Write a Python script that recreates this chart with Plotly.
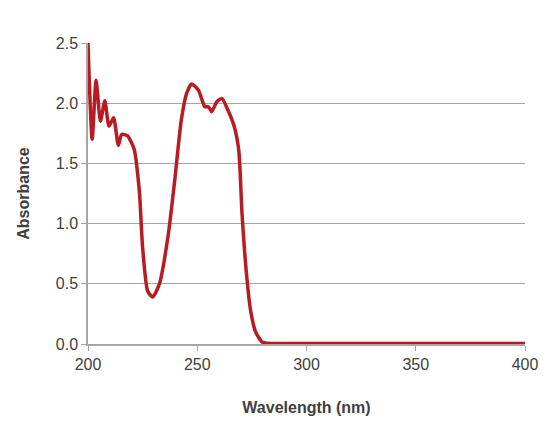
import plotly.graph_objects as go

# Spektrum lest av bildet
wavelength = [200, 201.9, 203.7, 205.7, 207.7, 209.6, 211.7, 213.9, 215.4, 218, 221.1,
              223.5, 225, 227.3, 229.6, 232.7, 236.6, 239.7, 242.7, 245.1, 247.4, 250.5,
              253.5, 255.1, 256.6, 258.9, 261.3, 263.6, 266.7, 269, 270.5, 272.4, 274.4,
              276.7, 279.8, 282, 300, 350, 400]
absorbance = [2.5, 1.70, 2.19, 1.85, 2.02, 1.81, 1.88, 1.65, 1.74, 1.73, 1.62,
              1.27, 0.80, 0.44, 0.39, 0.50, 0.89, 1.36, 1.86, 2.08, 2.16, 2.11,
              1.97, 1.97, 1.93, 2.01, 2.04, 1.96, 1.82, 1.61, 1.08, 0.61, 0.28,
              0.10, 0.014, 0.006, 0.005, 0.005, 0.005]

fig = go.Figure()
fig.add_trace(go.Scatter(x=wavelength, y=absorbance, mode="lines",
                         line=dict(color="#b81c22", width=3.5, shape="spline", smoothing=0.6)))

font = "Liberation Sans, Arial, sans-serif"
fig.update_layout(
    width=550, height=423,
    margin=dict(l=80, r=33, t=35, b=87),
    plot_bgcolor="white", paper_bgcolor="white",
    showlegend=False,
    font=dict(family=font, size=16, color="#404040"),
    xaxis=dict(range=[200, 400], tickvals=[200, 250, 300, 350, 400],
               showgrid=False, showline=True, linecolor="#a6a6a6", linewidth=1.5,
               ticks="outside", ticklen=5, tickcolor="#a6a6a6",
               title=dict(text="<b>Wavelength (nm)</b>", font=dict(size=16, color="#404040"), standoff=30)),
    yaxis=dict(range=[0, 2.5], tickvals=[0, 0.5, 1, 1.5, 2, 2.5], tickformat=".1f",
               showgrid=True, gridcolor="#a6a6a6", gridwidth=1.2, zeroline=False,
               showline=True, linecolor="#a6a6a6", linewidth=1.5,
               ticks="outside", ticklen=5, tickcolor="#a6a6a6",
               title=dict(text="<b>Absorbance</b>", font=dict(size=16, color="#404040"), standoff=22)),
)
fig.write_html("out.html")
